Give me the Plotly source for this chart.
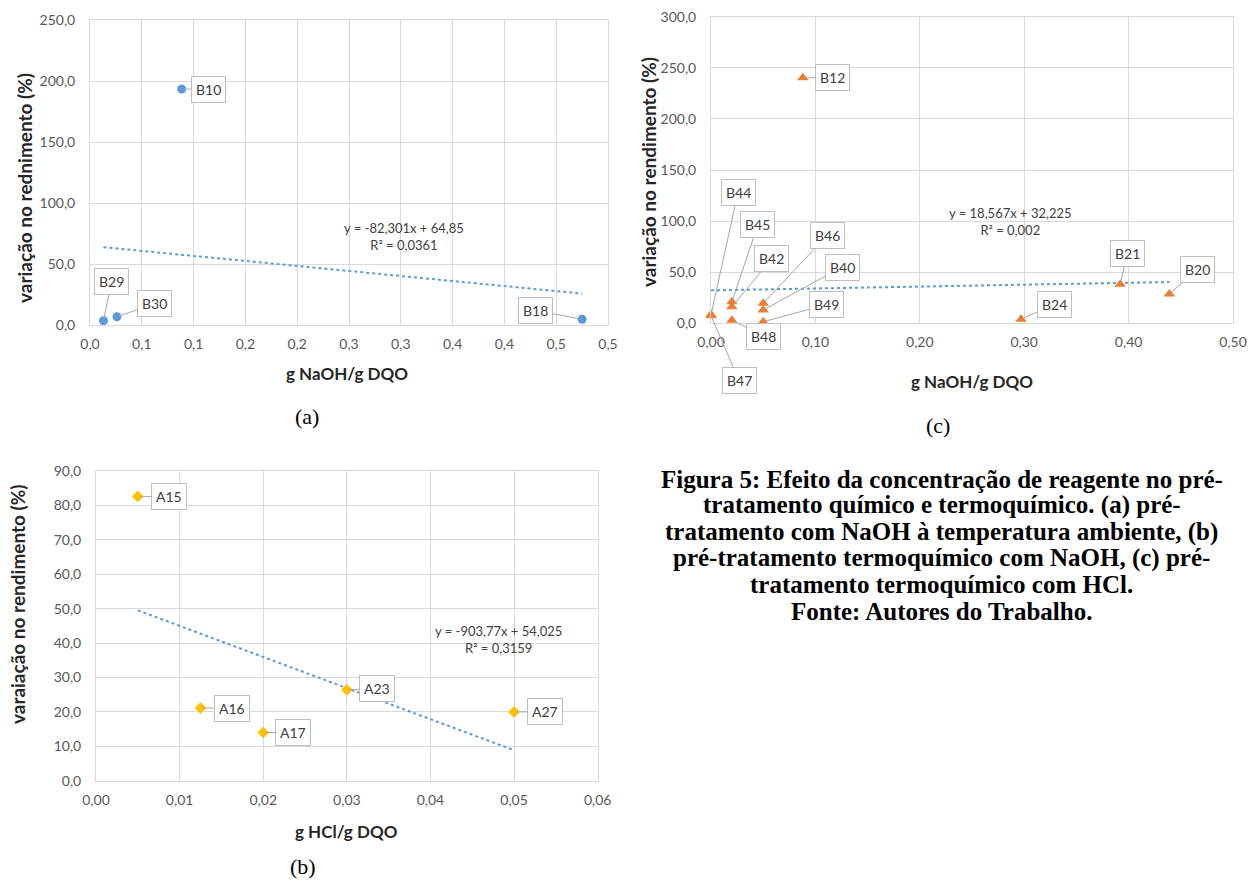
import plotly.graph_objects as go

# ---------------- data ----------------
# (a) NaOH pre-treatment at room temperature
a_names = ["B29", "B30", "B10", "B18"]
a_x = [0.013, 0.026, 0.0885, 0.475]
a_y = [3.5, 6.8, 193.4, 4.7]
a_slope, a_intercept = -82.301, 64.85
a_eq = "y = -82,301x + 64,85<br>R² = 0,0361"
a_xticks = [0.0, 0.05, 0.1, 0.15, 0.2, 0.25, 0.3, 0.35, 0.4, 0.45, 0.5]
a_xticktext = ["0,0", "0,1", "0,1", "0,2", "0,2", "0,3", "0,3", "0,4", "0,4", "0,5", "0,5"]

# (c) thermochemical NaOH
c_names = ["B12", "B44", "B45", "B42", "B48", "B46", "B40", "B49", "B47", "B24", "B21", "B20"]
c_x = [0.088, 0.0, 0.02, 0.02, 0.02, 0.05, 0.05, 0.05, 0.0, 0.297, 0.392, 0.439]
c_y = [240.3, 8.5, 21.0, 16.2, 3.0, 19.6, 13.0, 1.5, 7.5, 3.9, 38.2, 28.7]
c_slope, c_intercept = 18.567, 32.225
c_eq = "y = 18,567x + 32,225<br>R² = 0,002"

# (b) thermochemical HCl
b_names = ["A15", "A16", "A17", "A23", "A27"]
b_x = [0.005, 0.0125, 0.02, 0.03, 0.05]
b_y = [82.6, 21.1, 14.0, 26.4, 20.0]
b_slope, b_intercept = -903.77, 54.025
b_eq = "y = -903,77x + 54,025<br>R² = 0,3159"

caption_lines = [
    "Figura 5: Efeito da concentração de reagente no pré-",
    "tratamento químico e termoquímico. (a) pré-",
    "tratamento com NaOH à temperatura ambiente, (b)",
    "pré-tratamento termoquímico com NaOH, (c) pré-",
    "tratamento termoquímico com HCl.",
    "Fonte: Autores do Trabalho.",
]

# ---------------- layout helpers ----------------
W, H = 1252, 883
FONT = "Lato"
TICK_COLOR = "#595959"
GRID = "#d9d9d9"
TREND = "#5b9bd5"

# label offsets (pixels, box centre relative to point)
a_off = [(8, -39), (38, -13), (27, 0), (-47, -9)]
c_off = [(30, 0), (27, -122), (26, -77), (40, -48), (32, 16), (64, -68),
         (79, -43), (63, -17), (28, 65), (33, -15), (7, -31), (28, -24)]
b_off = [(31, 0), (31, 0), (30, 0), (30, -1), (31, 0)]


def px(x):
    return x / W


def py(y):
    return 1 - y / H


fig = go.Figure()


def add_panel(xs, ys, slope, intercept, xa, ya, color, symbol, size):
    fig.add_trace(go.Scatter(
        x=[min(xs), max(xs)],
        y=[slope * min(xs) + intercept, slope * max(xs) + intercept],
        mode="lines", line=dict(color=TREND, width=2, dash="dot"),
        xaxis=xa, yaxis=ya, showlegend=False, hoverinfo="skip"))
    fig.add_trace(go.Scatter(
        x=xs, y=ys, mode="markers",
        marker=dict(color=color, symbol=symbol, size=size, line=dict(width=0)),
        xaxis=xa, yaxis=ya, showlegend=False, cliponaxis=False))


add_panel(a_x, a_y, a_slope, a_intercept, "x", "y", "#5b9bd5", "circle", 9)
add_panel(c_x, c_y, c_slope, c_intercept, "x2", "y2", "#ed7d31", "triangle-up", 10)
add_panel(b_x, b_y, b_slope, b_intercept, "x3", "y3", "#ffc000", "diamond", 9)

annotations = []


def add_labels(names, xs, ys, offs, xref, yref):
    for n, x, y, (ox, oy) in zip(names, xs, ys, offs):
        annotations.append(dict(
            x=x, y=y, xref=xref, yref=yref, text=n, showarrow=True,
            ax=ox, ay=oy, arrowhead=0, arrowwidth=1, arrowcolor="#a6a6a6",
            standoff=2, bgcolor="white", bordercolor="#bfbfbf", borderwidth=1,
            borderpad=4, xanchor="center", yanchor="middle",
            font=dict(family=FONT, size=14, color="#404040")))


add_labels(a_names, a_x, a_y, a_off, "x", "y")
add_labels(c_names, c_x, c_y, c_off, "x2", "y2")
add_labels(b_names, b_x, b_y, b_off, "x3", "y3")

eq_font = dict(family=FONT, size=13, color="#404040")
annotations += [
    dict(x=0.303, y=72.5, xref="x", yref="y", text=a_eq, showarrow=False, font=eq_font,
         align="center", xanchor="center", yanchor="middle"),
    dict(x=0.2864, y=100, xref="x2", yref="y2", text=c_eq, showarrow=False, font=eq_font,
         align="center", xanchor="center", yanchor="middle"),
    dict(x=0.0481, y=41.0, xref="x3", yref="y3", text=b_eq, showarrow=False, font=eq_font,
         align="center", xanchor="center", yanchor="middle"),
]


def paper_text(x, y, text, font, angle=0):
    annotations.append(dict(
        x=px(x), y=py(y), xref="paper", yref="paper", text=text, textangle=angle,
        showarrow=False, xanchor="center", yanchor="middle", font=font))


ytitle_font = dict(family=FONT, size=19, color="#262626", weight="bold")
xtitle_font = dict(family=FONT, size=17, color="#262626", weight="bold")
# y axis titles
paper_text(24, 188, "variação no rednimento (%)", ytitle_font, -90)
paper_text(648, 172, "variação no rendimento (%)", ytitle_font, -90)
paper_text(17, 604, "varaiação no rendimento (%)", ytitle_font, -90)
# x axis titles
paper_text(347, 373, "g NaOH/g DQO", xtitle_font)
paper_text(972, 381, "g NaOH/g DQO", xtitle_font)
paper_text(346, 831, "g HCl/g DQO", xtitle_font)
# panel letters
letter_font = dict(family="Liberation Serif", size=22, color="black")
paper_text(307, 416, "(a)", letter_font)
paper_text(938, 425, "(c)", letter_font)
paper_text(303, 866, "(b)", letter_font)
# caption
cap_font = dict(family="Liberation Serif", size=25, color="black", weight="bold")
for i, line in enumerate(caption_lines):
    paper_text(942, 479 + 26.4 * i, line, cap_font)

axis_common = dict(showgrid=True, gridcolor=GRID, gridwidth=1, zeroline=False,
                   showline=True, linecolor=GRID, mirror=True, ticks="",
                   automargin=False,
                   tickfont=dict(family=FONT, size=14, color=TICK_COLOR))
xa = dict(ticklabelstandoff=6, **axis_common)
ya = dict(ticklabelstandoff=11, **axis_common)

fig.update_layout(
    width=W, height=H, margin=dict(l=0, r=0, t=0, b=0),
    paper_bgcolor="white", plot_bgcolor="white", separators=",.",
    showlegend=False,
    xaxis=dict(domain=[px(90), px(608)], anchor="y", range=[0, 0.5],
               tickvals=a_xticks, ticktext=a_xticktext, **xa),
    yaxis=dict(domain=[py(325), py(20)], anchor="x", range=[0, 250],
               dtick=50, tickformat=".1f", **ya),
    xaxis2=dict(domain=[px(711), px(1233)], anchor="y2", range=[0, 0.5],
                dtick=0.1, tickformat=".2f", **xa),
    yaxis2=dict(domain=[py(323.3), py(16.7)], anchor="x2", range=[0, 300],
                dtick=50, tickformat=".1f", **ya),
    xaxis3=dict(domain=[px(96), px(597.7)], anchor="y3", range=[0, 0.06],
                dtick=0.01, tickformat=".2f", **xa),
    yaxis3=dict(domain=[py(780.7), py(471)], anchor="x3", range=[0, 90],
                dtick=10, tickformat=".1f", **ya),
    annotations=annotations,
)

fig.write_html("out.html")
